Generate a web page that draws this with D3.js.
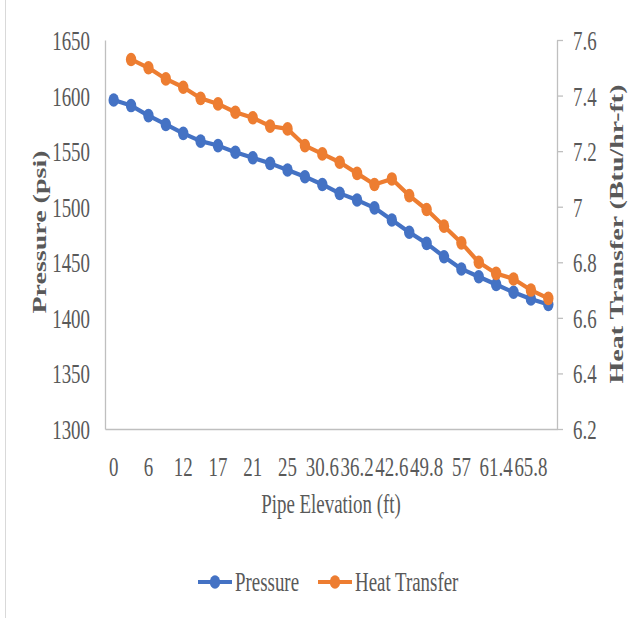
<!DOCTYPE html>
<html>
<head>
<meta charset="utf-8">
<script src="https://cdn.jsdelivr.net/npm/d3@7"></script>
<style>
  html, body { margin: 0; padding: 0; background: #fff; }
  svg { display: block; }
  text { font-family: "Liberation Serif", "Times New Roman", serif; fill: #595959; }
</style>
</head>
<body>
<svg id="chart" width="637" height="618"></svg>
<script>
// Pipe elevation categories (ft)
const elevation = [0, 3, 6, 9, 12, 14.5, 17, 19, 21, 23, 25, 27.8, 30.6, 33.4, 36.2, 39.4,
                   42.6, 46.2, 49.8, 53.4, 57, 59.2, 61.4, 63.6, 65.8, 68];
// Pressure along the pipe (psi)
const pressure = [1596, 1591, 1582, 1574, 1566, 1559, 1555, 1549, 1544, 1539, 1533, 1527, 1520,
                  1512, 1506, 1499, 1488, 1477, 1467, 1455, 1444, 1437, 1430, 1423, 1417, 1412];
// Heat transfer (Btu/hr-ft); no reading at the first station
const heatTransfer = [null, 7.53, 7.50, 7.46, 7.43, 7.39, 7.37, 7.34, 7.32, 7.29, 7.28, 7.22, 7.19,
                      7.16, 7.12, 7.08, 7.10, 7.04, 6.99, 6.93, 6.87, 6.80, 6.76, 6.74, 6.70, 6.67];
const pressureTicks = [1300, 1350, 1400, 1450, 1500, 1550, 1600, 1650];
const heatTicks = [6.2, 6.4, 6.6, 6.8, 7, 7.2, 7.4, 7.6];
const heatTickLabels = ["6.2", "6.4", "6.6", "6.8", "7", "7.2", "7.4", "7.6"];

const BLUE = "#4472C4", ORANGE = "#ED7D31", AXIS = "#BFBFBF";
const SX = 0.7;            // horizontal squeeze used for all text
const FS = 27;             // label font size

const svg = d3.select("#chart");
const plotL = 105, plotR = 557, plotT = 40, plotB = 429;

const x = d3.scaleBand().domain(d3.range(elevation.length)).range([plotL, plotR]);
const cx = i => x(i) + x.bandwidth() / 2;
const yL = d3.scaleLinear().domain([1300, 1650]).range([plotB, plotT]);
const yR = d3.scaleLinear().domain([6.2, 7.6]).range([plotB, plotT]);

// outer chart frame edge
svg.append("line").attr("x1", 5.5).attr("x2", 5.5).attr("y1", 0).attr("y2", 618)
  .attr("stroke", "#D9D9D9").attr("stroke-width", 1);

function styleLabels(sel, tr) {
  sel.attr("x", null).attr("y", null).attr("dy", null)
    .attr("transform", tr)
    .style("font-size", FS + "px").style("fill", "#595959")
    .style("font-family", "Liberation Serif");
}

// left axis (line only, labels)
const gL = svg.append("g").attr("transform", `translate(${plotL},0)`)
  .call(d3.axisLeft(yL).tickValues(pressureTicks).tickFormat(d3.format("d"))
    .tickSize(0).tickPadding(0));
gL.select(".domain").attr("stroke", AXIS).attr("stroke-width", 1.3);
styleLabels(gL.selectAll("text"), `translate(-15,0) scale(${SX},1)`);
gL.selectAll("text").attr("dy", "0.35em");

// right axis with outward ticks
const gR = svg.append("g").attr("transform", `translate(${plotR},0)`)
  .call(d3.axisRight(yR).tickValues(heatTicks).tickSize(6).tickSizeOuter(0)
    .tickFormat((d, i) => heatTickLabels[i]));
gR.select(".domain").attr("stroke", AXIS).attr("stroke-width", 1.3);
gR.selectAll(".tick line").attr("stroke", AXIS).attr("stroke-width", 1.3);
styleLabels(gR.selectAll("text"), `translate(16,0) scale(${SX},1)`);
gR.selectAll("text").attr("dy", "0.35em");

// bottom axis: every other category labelled
const gB = svg.append("g").attr("transform", `translate(0,${plotB})`)
  .call(d3.axisBottom(x).tickSize(0).tickPadding(0)
    .tickFormat(i => (i % 2 === 0 ? String(elevation[i]) : "")));
gB.select(".domain").attr("stroke", AXIS).attr("stroke-width", 1.3);
styleLabels(gB.selectAll("text"), `translate(0,47) scale(${SX},1)`);

// axis titles
svg.append("text").attr("transform", `translate(331,513) scale(${SX},1)`)
  .attr("text-anchor", "middle").style("font-size", FS + "px").text("Pipe Elevation (ft)");
svg.append("text").attr("transform", `translate(46,232) scale(${SX},1) rotate(-90)`)
  .attr("text-anchor", "middle").style("font-size", "28px").style("font-weight", "bold")
  .text("Pressure (psi)");
svg.append("text").attr("transform", `translate(623,234) scale(${SX},1) rotate(-90)`)
  .attr("text-anchor", "middle").style("font-size", "28px").style("font-weight", "bold")
  .text("Heat Transfer (Btu/hr-ft)");

// series
const series = [
  { name: "Pressure", values: pressure, y: yL, color: BLUE },
  { name: "Heat Transfer", values: heatTransfer, y: yR, color: ORANGE }
];
series.forEach(s => {
  const pts = s.values.map((v, i) => ({ i, v })).filter(d => d.v !== null);
  svg.append("path").datum(pts)
    .attr("fill", "none").attr("stroke", s.color).attr("stroke-width", 4.2)
    .attr("stroke-linejoin", "round")
    .attr("d", d3.line().x(d => cx(d.i)).y(d => s.y(d.v)));
  svg.append("g").selectAll("ellipse").data(pts).join("ellipse")
    .attr("cx", d => cx(d.i)).attr("cy", d => s.y(d.v))
    .attr("rx", 5.2).attr("ry", 6.8).attr("fill", s.color);
});

// legend
const legend = [
  { name: "Pressure", color: BLUE, x0: 198 },
  { name: "Heat Transfer", color: ORANGE, x0: 318 }
];
const lg = svg.append("g").selectAll("g").data(legend).join("g");
lg.append("line").attr("x1", d => d.x0).attr("x2", d => d.x0 + 34)
  .attr("y1", 582).attr("y2", 582).attr("stroke", d => d.color).attr("stroke-width", 4.2);
lg.append("ellipse").attr("cx", d => d.x0 + 17).attr("cy", 582).attr("rx", 5.2).attr("ry", 6.8)
  .attr("fill", d => d.color);
lg.append("text").attr("transform", d => `translate(${d.x0 + 37},591) scale(${SX},1)`)
  .style("font-size", FS + "px").text(d => d.name);
</script>
</body>
</html>
